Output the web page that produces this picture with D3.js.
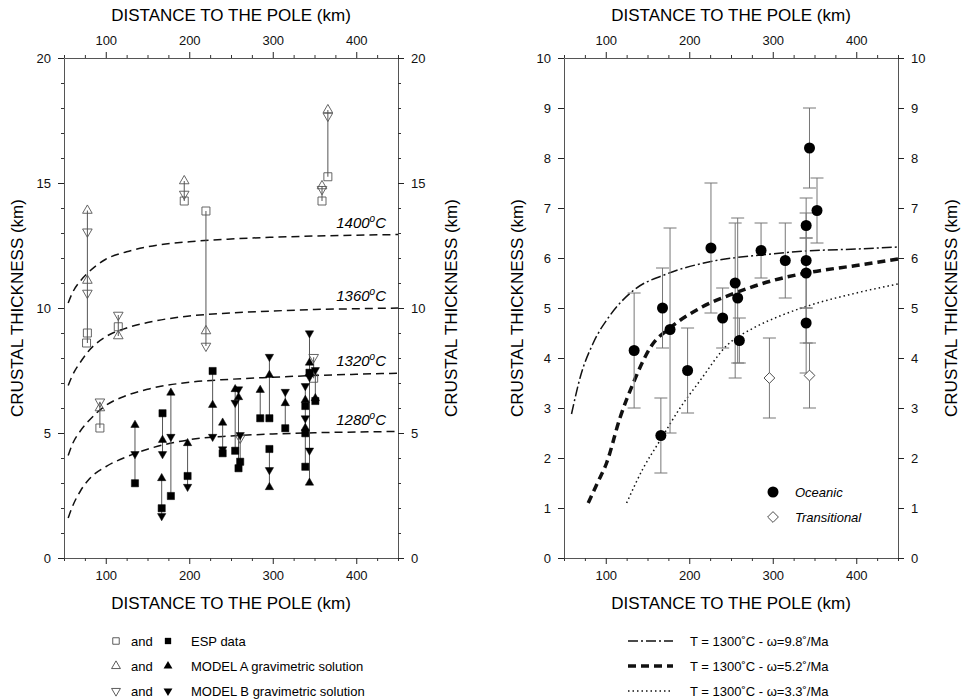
<!DOCTYPE html>
<html>
<head>
<meta charset="utf-8">
<script src="https://cdn.jsdelivr.net/npm/d3@7"></script>
<style>
  body { margin: 0; background: #fff; }
  svg { font-family: "Liberation Sans", Arial, sans-serif; }
</style>
</head>
<body>
<svg id="chart" width="961" height="699"></svg>
<script>
// ---- left panel: crustal thickness estimates [distance km, thickness km]
const espOpen = [[78, 9.0], [77, 8.6], [93, 5.2], [115, 9.25], [194, 14.28], [220, 13.88], [359, 14.28], [366, 15.25], [349, 7.19]];
const modelAOpen = [[78, 13.9], [78, 11.1], [93, 6.0], [115, 8.88], [194, 15.08], [220, 9.08], [359, 14.88], [366, 17.92]];
const modelBOpen = [[78, 13.05], [78, 10.6], [93, 6.25], [115, 9.72], [194, 14.56], [220, 8.48], [359, 14.75], [366, 17.68], [349, 8.03], [261, 4.8]];

const espFilled = [[135, 2.99], [168, 5.79], [167, 1.99], [178, 2.48], [198, 3.28], [228, 7.48], [240, 4.19], [255, 4.29], [259, 3.59], [261, 3.85], [285, 5.59], [296, 5.59], [296, 4.36], [315, 5.19], [339, 6.08], [339, 4.99], [339, 3.65], [344, 7.41], [351, 6.28]];
const modelAFilled = [[135, 5.32], [168, 4.72], [167, 3.19], [178, 6.61], [198, 4.59], [228, 6.12], [240, 5.41], [255, 6.75], [259, 6.43], [285, 6.72], [296, 7.32], [296, 2.83], [315, 6.19], [339, 6.32], [339, 5.2], [344, 7.81], [344, 3.01], [351, 6.39]];
const modelBFilled = [[135, 4.16], [168, 4.16], [167, 1.68], [178, 4.85], [198, 2.85], [228, 4.85], [240, 4.35], [255, 6.21], [259, 6.75], [261, 4.92], [296, 8.05], [296, 3.52], [315, 6.65], [339, 6.88], [339, 5.59], [344, 8.99], [344, 7.24], [344, 4.3], [351, 7.52]];

// vertical links joining estimates of one site [distance, low, high]
const siteLinks = [
  [78, 8.6, 13.9], [93, 5.2, 6.25], [115, 8.88, 9.72], [194, 14.28, 15.08], [220, 8.48, 13.88],
  [359, 14.28, 14.88], [366, 15.25, 17.92], [349, 7.19, 8.03],
  [135, 2.99, 5.32], [168, 4.16, 5.79], [167, 1.68, 3.19], [178, 2.48, 6.61], [198, 2.85, 4.59],
  [228, 4.85, 7.48], [240, 4.19, 5.41], [255, 4.29, 6.75], [259, 3.59, 6.75], [261, 3.85, 4.92],
  [285, 5.59, 6.72], [296, 5.59, 8.05], [296, 2.83, 4.36], [315, 5.19, 6.65], [339, 3.65, 6.88],
  [344, 3.01, 8.99], [351, 6.28, 7.52]
];

// model curves for mantle temperatures
const tempLabels = ['1400', '1360', '1320', '1280'];
const curveDist = [55, 60, 70, 80, 100, 125, 150, 200, 250, 300, 350, 400, 450];
const curve1400 = [10.2, 10.6, 11.1, 11.45, 11.95, 12.25, 12.45, 12.65, 12.76, 12.83, 12.88, 12.91, 12.94];
const curve1360 = [6.9, 7.3, 7.85, 8.3, 8.85, 9.2, 9.42, 9.68, 9.8, 9.88, 9.94, 9.97, 10.0];
const curve1320 = [4.1, 4.55, 5.1, 5.5, 6.1, 6.5, 6.75, 7.03, 7.15, 7.23, 7.3, 7.35, 7.39];
const curve1280 = [1.6, 2.05, 2.7, 3.15, 3.65, 4.05, 4.35, 4.73, 4.88, 4.96, 5.01, 5.04, 5.06];

// ---- right panel: [distance, thickness, low, high]
const oceanic = [
  [134, 4.15, 3.0, 5.3], [168, 5.0, 4.2, 5.8], [177, 4.57, 2.5, 6.6], [166, 2.45, 1.7, 3.2],
  [198, 3.75, 2.9, 4.6], [226, 6.2, 4.9, 7.5], [240, 4.8, 4.2, 5.4], [255, 5.5, 3.6, 6.7],
  [258, 5.2, 3.9, 6.8], [260, 4.35, 3.9, 4.8], [286, 6.15, 5.6, 6.7], [315, 5.95, 5.2, 6.7],
  [340, 6.65, 6.4, 6.9], [340, 5.95, 5.0, 7.2], [340, 5.7, 4.3, 6.4], [340, 4.7, 3.7, 5.0],
  [344, 8.2, 7.4, 9.0], [353, 6.95, 6.3, 7.6]
];
const transitional = [[296, 3.6, 2.8, 4.4], [344, 3.65, 3.0, 4.3]];

const rate98 = [[59, 2.88], [70, 3.65], [85, 4.3], [105, 4.85], [133, 5.35], [173, 5.68], [226, 5.93], [286, 6.06], [340, 6.14], [400, 6.18], [450, 6.22]];
const rate52 = [[79, 1.1], [90, 1.5], [101, 1.9], [117, 2.8], [133, 3.5], [155, 4.25], [177, 4.6], [213, 5.0], [255, 5.3], [300, 5.55], [340, 5.7], [400, 5.85], [450, 5.98]];
const rate33 = [[125, 1.1], [145, 1.8], [165, 2.35], [189, 3.0], [213, 3.55], [245, 4.25], [277, 4.6], [310, 4.85], [340, 5.03], [400, 5.3], [450, 5.48]];
const rateLabels = ['9.8', '5.2', '3.3'];

const xTitle = 'DISTANCE TO THE POLE (km)';
const yTitle = 'CRUSTAL THICKNESS (km)';

const svg = d3.select('#chart');
const plotTop = 58, plotBottom = 558;

function drawFrame(g, x, y, yMax, yMinorStep, yMajorStep) {
  const xMajor = [100, 200, 300, 400];
  const xMinor = d3.range(50, 451, 25).filter(v => v % 100 !== 0);
  const yMajor = d3.range(0, yMax + 0.01, yMajorStep);
  const yMinor = d3.range(0, yMax + 0.01, yMinorStep).filter(v => Math.abs(v / yMajorStep - Math.round(v / yMajorStep)) > 1e-6);

  const axes = [
    [d3.axisBottom(x), `translate(0,${plotBottom})`, xMajor, xMinor],
    [d3.axisTop(x), `translate(0,${plotTop})`, xMajor, xMinor],
    [d3.axisLeft(y), `translate(${x.range()[0]},0)`, yMajor, yMinor],
    [d3.axisRight(y), `translate(${x.range()[1]},0)`, yMajor, yMinor]
  ];
  axes.forEach(([ax, tr, major, minor]) => {
    g.append('g').attr('transform', tr)
      .call(ax.tickValues(major).tickSize(6).tickSizeOuter(0).tickPadding(7).tickFormat(d3.format('d')))
      .call(s => s.selectAll('text').attr('font-size', 13).attr('fill', '#111').attr('font-family', '"Liberation Sans", Arial, sans-serif'))
      .call(s => s.selectAll('line').attr('stroke', '#222'))
      .call(s => s.select('.domain').attr('stroke', '#555'));
    g.append('g').attr('transform', tr)
      .call(ax.tickValues(minor).tickSize(3).tickSizeOuter(0).tickFormat(''))
      .call(s => s.select('.domain').remove())
      .call(s => s.selectAll('line').attr('stroke', '#333'));
  });

  const cx = (x.range()[0] + x.range()[1]) / 2;
  g.append('text').attr('x', cx).attr('y', 21).attr('text-anchor', 'middle')
    .attr('font-size', 17).text(xTitle);
  g.append('text').attr('x', cx).attr('y', 609).attr('text-anchor', 'middle')
    .attr('font-size', 17).text(xTitle);
  const cy = (plotTop + plotBottom) / 2;
  [x.range()[0] - 41, x.range()[1] + 59].forEach(px => {
    g.append('text').attr('transform', `translate(${px},${cy}) rotate(-90)`)
      .attr('text-anchor', 'middle').attr('font-size', 17).text(yTitle);
  });
}

// ---------- left panel ----------
const xL = d3.scaleLinear().domain([50, 450]).range([64, 398]);
const yL = d3.scaleLinear().domain([0, 20]).range([plotBottom, plotTop]);
const gL = svg.append('g');
drawFrame(gL, xL, yL, 20, 1, 5);

const lineL = d3.line().x(d => xL(d[0])).y(d => yL(d[1])).curve(d3.curveMonotoneX);
[curve1400, curve1360, curve1320, curve1280].forEach((vals, i) => {
  gL.append('path').datum(curveDist.map((d, j) => [d, vals[j]]))
    .attr('d', lineL).attr('fill', 'none').attr('stroke', '#111')
    .attr('stroke-width', 1.5).attr('stroke-dasharray', '8,5');
  const last = vals[vals.length - 1];
  const t = gL.append('text').attr('x', 386).attr('y', yL(last) - 7)
    .attr('text-anchor', 'end').attr('font-size', 15).attr('font-style', 'italic');
  t.append('tspan').text(tempLabels[i]);
  t.append('tspan').attr('font-size', 10).attr('dy', -6).text('o');
  t.append('tspan').attr('dy', 6).text('C');
});

gL.selectAll('line.link').data(siteLinks).join('line').attr('class', 'link')
  .attr('x1', d => xL(d[0])).attr('x2', d => xL(d[0]))
  .attr('y1', d => yL(d[1])).attr('y2', d => yL(d[2]))
  .attr('stroke', '#555').attr('stroke-width', 1);

const sq = (s) => d3.symbol().type(d3.symbolSquare).size(s);
const tri = (s) => d3.symbol().type(d3.symbolTriangle).size(s);

function drawSymbols(data, gen, rot, filled) {
  gL.append('g').selectAll('path').data(data).join('path')
    .attr('d', gen())
    .attr('transform', d => `translate(${xL(d[0])},${yL(d[1])}) rotate(${rot})`)
    .attr('fill', filled ? '#000' : '#fff')
    .attr('fill-opacity', filled ? 1 : 0)
    .attr('stroke', filled ? '#000' : '#555')
    .attr('stroke-width', filled ? 0.5 : 0.9);
}
drawSymbols(espOpen, () => sq(64), 0, false);
drawSymbols(modelAOpen, () => tri(40), 0, false);
drawSymbols(modelBOpen, () => tri(40), 180, false);
drawSymbols(espFilled, () => sq(52), 0, true);
drawSymbols(modelAFilled, () => tri(30), 0, true);
drawSymbols(modelBFilled, () => tri(30), 180, true);

// left legend
const legL = [
  ['ESP data', d3.symbolSquare, 0, 42, 40],
  ['MODEL A gravimetric solution', d3.symbolTriangle, 0, 34, 34],
  ['MODEL B gravimetric solution', d3.symbolTriangle, 180, 34, 34]
];
legL.forEach(([label, type, rot, so, sf], i) => {
  const yy = 641 + i * 25;
  gL.append('path').attr('d', d3.symbol().type(type).size(so)())
    .attr('transform', `translate(116,${yy}) rotate(${rot})`)
    .attr('fill', 'none').attr('stroke', '#333').attr('stroke-width', 0.8);
  gL.append('text').attr('x', 131).attr('y', yy + 4.5).attr('font-size', 13).text('and');
  gL.append('path').attr('d', d3.symbol().type(type).size(sf)())
    .attr('transform', `translate(168,${yy}) rotate(${rot})`).attr('fill', '#000');
  gL.append('text').attr('x', 191).attr('y', yy + 4.5).attr('font-size', 13).text(label);
});

// ---------- right panel ----------
const xR = d3.scaleLinear().domain([50, 450]).range([564, 898]);
const yR = d3.scaleLinear().domain([0, 10]).range([plotBottom, plotTop]);
const gR = svg.append('g');
drawFrame(gR, xR, yR, 10, 1, 1);

const lineR = d3.line().x(d => xR(d[0])).y(d => yR(d[1])).curve(d3.curveMonotoneX);
const rateStyles = [
  { w: 1.5, dash: '10,3,2,3' },
  { w: 3.5, dash: '8,5' },
  { w: 1.5, dash: '1.5,3' }
];
[rate98, rate52, rate33].forEach((data, i) => {
  gR.append('path').datum(data).attr('d', lineR).attr('fill', 'none')
    .attr('stroke', '#111').attr('stroke-width', rateStyles[i].w)
    .attr('stroke-dasharray', rateStyles[i].dash);
});

function errorBars(data) {
  const g = gR.append('g').attr('stroke', '#777').attr('stroke-width', 1);
  g.selectAll('line.v').data(data).join('line').attr('class', 'v')
    .attr('x1', d => xR(d[0])).attr('x2', d => xR(d[0]))
    .attr('y1', d => yR(d[2])).attr('y2', d => yR(d[3]));
  ['2', '3'].forEach(k => {
    g.selectAll('line.c' + k).data(data).join('line').attr('class', 'c' + k)
      .attr('x1', d => xR(d[0]) - 6.5).attr('x2', d => xR(d[0]) + 6.5)
      .attr('y1', d => yR(d[+k])).attr('y2', d => yR(d[+k]));
  });
}
errorBars(oceanic);
errorBars(transitional);

// open diamond = square turned 45 degrees
const diamond = d3.symbol().type(d3.symbolSquare).size(58);
gR.append('g').selectAll('circle').data(oceanic).join('circle')
  .attr('cx', d => xR(d[0])).attr('cy', d => yR(d[1])).attr('r', 5.5).attr('fill', '#000');
gR.append('g').selectAll('path').data(transitional).join('path')
  .attr('d', diamond).attr('transform', d => `translate(${xR(d[0])},${yR(d[1])}) rotate(45)`)
  .attr('fill', '#fff').attr('stroke', '#444').attr('stroke-width', 0.9);

// in-plot legend
gR.append('circle').attr('cx', 773).attr('cy', 492).attr('r', 5.5).attr('fill', '#000');
gR.append('text').attr('x', 795).attr('y', 497).attr('font-size', 13).attr('font-style', 'italic').text('Oceanic');
gR.append('path').attr('d', diamond).attr('transform', 'translate(773,517) rotate(45)')
  .attr('fill', '#fff').attr('stroke', '#444').attr('stroke-width', 0.9);
gR.append('text').attr('x', 795).attr('y', 522).attr('font-size', 13).attr('font-style', 'italic').text('Transitional');

// bottom legend
rateLabels.forEach((r, i) => {
  const yy = 641 + i * 25;
  gR.append('line').attr('x1', 628).attr('x2', 673).attr('y1', yy).attr('y2', yy)
    .attr('stroke', '#111').attr('stroke-width', rateStyles[i].w)
    .attr('stroke-dasharray', rateStyles[i].dash);
  gR.append('text').attr('x', 690).attr('y', yy + 4.5).attr('font-size', 13)
    .text(`T = 1300˚C - ω=${r}˚/Ma`);
});
</script>
</body>
</html>
